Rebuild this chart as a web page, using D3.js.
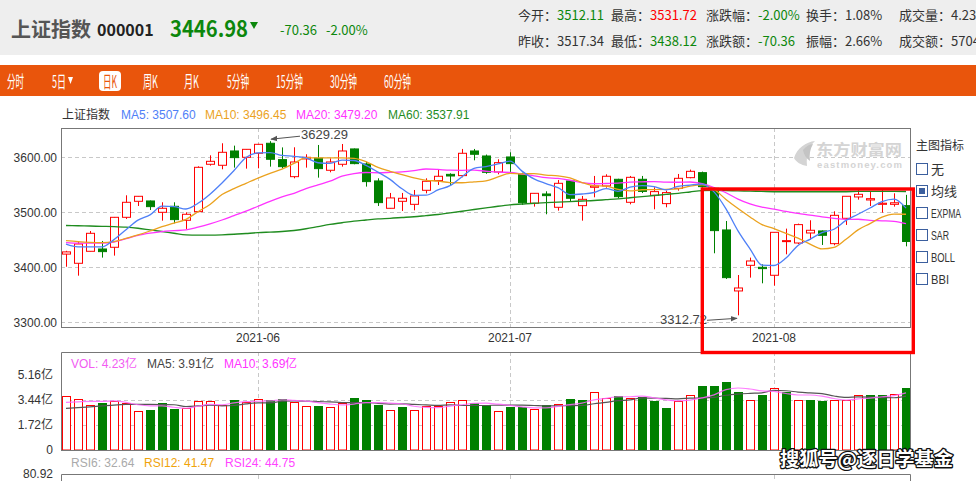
<!DOCTYPE html>
<html lang="zh-CN">
<head>
<meta charset="utf-8">
<title>上证指数 000001 日K</title>
<script src="https://d3js.org/d3.v7.min.js"></script>
<style>
html, body { margin: 0; padding: 0; background: #fff; }
svg { display: block; }
text { font-family: "Liberation Sans", Arial, sans-serif; }
.cjk { font-family: "Noto Sans CJK SC", "Noto Sans", sans-serif; }
</style>
</head>
<body>
<div id="chart"></div>
<script>
// ---- data ----
var dates = [
  "2021-05-10","2021-05-11","2021-05-12","2021-05-13","2021-05-14","2021-05-17","2021-05-18","2021-05-19","2021-05-20","2021-05-21",
  "2021-05-24","2021-05-25","2021-05-26","2021-05-27","2021-05-28","2021-05-31","2021-06-01","2021-06-02","2021-06-03","2021-06-04",
  "2021-06-07","2021-06-08","2021-06-09","2021-06-10","2021-06-11","2021-06-15","2021-06-16","2021-06-17","2021-06-18","2021-06-21",
  "2021-06-22","2021-06-23","2021-06-24","2021-06-25","2021-06-28","2021-06-29","2021-06-30","2021-07-01","2021-07-02","2021-07-05",
  "2021-07-06","2021-07-07","2021-07-08","2021-07-09","2021-07-12","2021-07-13","2021-07-14","2021-07-15","2021-07-16","2021-07-19",
  "2021-07-20","2021-07-21","2021-07-22","2021-07-23","2021-07-26","2021-07-27","2021-07-28","2021-07-29","2021-07-30","2021-08-02",
  "2021-08-03","2021-08-04","2021-08-05","2021-08-06","2021-08-09","2021-08-10","2021-08-11","2021-08-12","2021-08-13","2021-08-16",
  "2021-08-17"]

var opens = [3424,3407.3,3429.1,3433.3,3436.4,3490.9,3520,3520.6,3500,3510.9,
  3485.5,3501.2,3587.3,3585.5,3611.5,3600,3607.3,3625.5,3595.8,3564.8,
  3597,3598.2,3576.4,3587.3,3615.2,3587.9,3557,3507.3,3520,3514.5,
  3540,3557.6,3569,3566.7,3611.5,3602.4,3573.3,3600.6,3569.7,3516.4,
  3533.3,3509.1,3557,3512.1,3545.5,3547.9,3560,3518.2,3560,3530.9,
  3515.8,3543.6,3563,3572.1,3543.6,3467.9,3357,3403.6,3400,3385.5,
  3447.3,3444.2,3462.4,3466.1,3443,3489.1,3527.9,3522.4,3514.5,3514.5,
  3512.11]
var highs = [3430,3446.7,3466,3447.9,3491.5,3530.9,3529.5,3521.5,3518.2,3518.2,
  3500,3583.6,3603.6,3625.5,3621.2,3615,3624.5,3629.29,3618,3618.2,
  3605.5,3622.4,3598.2,3624.2,3616,3592,3561.8,3535.2,3535.2,3540.6,
  3561.8,3578.2,3570.9,3615.2,3615.2,3605,3596.4,3609.1,3572,3534.5,
  3538.2,3558.8,3557,3529.7,3566.1,3569.1,3561,3566.1,3566.1,3545.5,
  3539.4,3569.7,3577.6,3574,3546,3484.2,3386,3417.6,3405.5,3463.6,
  3470.3,3479.4,3485.5,3467,3501.8,3529.1,3543.6,3537.6,3540.6,3534.5,
  3531.72]
var lows = [3401,3384.8,3429,3417.6,3421.2,3487.9,3511.5,3504.2,3484.8,3480,
  3469.7,3500,3584.8,3578.2,3581.2,3579.4,3580,3583,3580,3561.8,
  3581.2,3563,3572.7,3583,3587.3,3546.7,3511.5,3507,3502.4,3503.6,
  3534.5,3549.7,3549.7,3563.6,3594.5,3570,3569.1,3573.3,3513.3,3510.3,
  3496.4,3503,3519.4,3484.8,3527.3,3544.8,3525.5,3514.5,3535,3505.5,
  3509.1,3539.4,3561.8,3545,3425.5,3378.8,3312.72,3381.2,3370.9,3366.7,
  3423.6,3442,3449.7,3440.6,3440,3477,3523,3511.5,3499.4,3510.3,
  3438.12]
var closes = [3428,3442.4,3461.8,3428.5,3490.9,3518.2,3529.1,3510.3,3507.3,3486.7,
  3496.4,3581.8,3592.7,3609.1,3599.4,3614.5,3623.6,3596.4,3583,3591.5,
  3600,3579.4,3591.5,3611.5,3588.5,3555.8,3517.6,3526.1,3525.5,3529.7,
  3556.4,3565.5,3566,3607.3,3605.5,3572.7,3590.3,3588.5,3517.6,3534.5,
  3530.3,3552.7,3525.5,3523.6,3547.9,3565.5,3528.5,3563.6,3538,3537.6,
  3535.8,3561.8,3574.5,3546.7,3466.7,3381.2,3362.4,3411.5,3397.6,3463.6,
  3448.5,3477.6,3467.3,3458.2,3494.5,3529.1,3532.7,3524.8,3516.5,3517.34,
  3446.98]

var ma5 = [3442,3437,3437,3437,3450.3,3468.4,3485.7,3495.4,3511.2,3510.3,
  3506.0,3516.5,3533.0,3553.3,3575.9,3599.5,3607.9,3608.6,3603.4,3601.8,
  3598.9,3590.1,3589.1,3594.8,3594.2,3585.3,3573.0,3559.9,3542.7,3530.9,
  3531.1,3540.6,3548.4,3564.7,3579.9,3583.2,3588.1,3592.9,3574.9,3560.7,
  3552.2,3544.7,3532.1,3533.3,3536.0,3543.0,3538.2,3545.8,3548.6,3546.6,
  3540.6,3547.3,3549.5,3551.3,3537.1,3506.2,3466.3,3433.7,3403.9,3403.3,
  3416.7,3439.8,3450.9,3463.0,3469.2,3485.3,3496.4,3507.9,3519.6,3524.1,
  3507.6]
var ma10 = [3448.5,3446.7,3445.5,3445,3446.7,3452.7,3458.8,3466,3474,3480.3,
  3487.2,3501.1,3514.2,3532.3,3543.1,3552.7,3562.2,3570.8,3578.4,3588.8,
  3599.2,3599.0,3598.8,3599.1,3598.0,3592.1,3581.5,3574.5,3568.7,3562.6,
  3558.2,3556.8,3554.1,3553.7,3555.4,3557.1,3564.4,3570.6,3569.8,3570.3,
  3567.7,3566.4,3562.5,3554.1,3548.4,3547.6,3541.5,3539.0,3541.0,3541.3,
  3541.8,3542.7,3547.6,3550.0,3541.8,3523.4,3506.8,3491.6,3477.6,3470.2,
  3461.5,3453.0,3442.3,3433.5,3436.2,3451.0,3468.1,3479.4,3491.3,3496.7,
  3496.45]
var ma20 = [3445,3444,3444,3444,3446,3452,3458,3462,3465,3466.5,
  3468,3473,3479,3486,3494,3502,3511,3520,3528,3534.6,
  3543.2,3550.0,3556.5,3565.7,3570.5,3572.4,3571.9,3572.6,3573.6,3575.7,
  3578.7,3577.9,3576.5,3576.4,3576.7,3574.6,3573.0,3572.6,3569.3,3566.4,
  3563.0,3561.6,3558.3,3553.9,3551.9,3552.4,3552.9,3554.8,3555.4,3555.8,
  3554.8,3554.6,3555.1,3552.0,3545.1,3535.5,3524.1,3515.3,3509.3,3505.7,
  3501.6,3497.9,3495.0,3491.7,3489.0,3487.2,3487.4,3485.5,3484.5,3483.4,
  3479.2]
var ma60 = [3476,3475.5,3475,3474.5,3474,3473,3471,3468,3465,3462,
  3459,3458.5,3458.5,3459,3460,3461.5,3463,3464,3465,3467,
  3470,3474,3478,3481,3484,3486,3488,3489,3490.5,3492,
  3494,3496,3499,3502,3505,3508,3511,3513.5,3515,3516.5,
  3517.5,3518.5,3519.5,3520.5,3521.5,3523,3524.5,3526.5,3528.5,3530.5,
  3532.5,3534.5,3537,3539.5,3540,3539.5,3539,3538.5,3538,3537.5,
  3537.5,3537.5,3537.5,3537.5,3537.5,3537.5,3538,3538,3538,3538,
  3537.91]

// volume in 亿
var volumes = [3.72,3.50,3.10,3.19,3.33,3.19,2.67,2.76,3.19,2.83,
  2.87,3.36,3.36,3.10,3.45,3.29,3.50,3.45,3.52,3.26,
  3.01,3.03,2.94,3.19,3.59,3.45,3.10,2.74,2.97,2.74,
  3.03,3.03,3.29,3.42,3.19,3.10,2.69,2.92,2.92,2.83,
  3.10,3.17,3.52,3.45,3.98,3.56,3.72,3.56,3.63,3.38,
  2.90,3.38,3.79,4.41,4.41,4.69,3.95,3.43,3.79,4.25,
  3.95,3.43,3.45,3.38,3.43,3.43,3.79,3.79,3.79,3.86,
  4.23]
var volMa5 = [3.26,3.30,3.33,3.33,3.37,3.26,3.10,3.03,3.03,2.93,
  2.86,3.00,3.12,3.10,3.23,3.31,3.34,3.36,3.44,3.40,
  3.35,3.25,3.15,3.09,3.15,3.24,3.25,3.21,3.17,3.00,
  2.92,2.90,3.01,3.10,3.19,3.21,3.14,3.06,2.96,2.89,
  2.89,2.99,3.11,3.21,3.44,3.54,3.65,3.65,3.69,3.57,
  3.44,3.37,3.42,3.57,3.78,4.14,4.25,4.18,4.05,4.02,
  3.87,3.77,3.77,3.69,3.53,3.42,3.50,3.56,3.65,3.73,
  3.91]
var volMa10 = [2.85,2.90,2.96,3.02,3.08,3.12,3.13,3.12,3.11,3.10,
  2.98,3.02,3.08,3.02,3.05,3.16,3.23,3.23,3.34,3.36,
  3.34,3.31,3.30,3.25,3.25,3.25,3.20,3.15,3.16,3.12,
  3.09,3.06,3.09,3.05,3.05,3.05,3.08,3.08,3.08,3.05,
  3.02,3.03,3.04,3.05,3.17,3.26,3.38,3.43,3.57,3.55,
  3.54,3.51,3.55,3.57,3.61,3.75,3.83,3.88,3.92,4.08,
  4.06,3.97,3.91,3.86,3.70,3.60,3.64,3.63,3.59,3.58,
  3.69]

var priceTicks = [3300, 3400, 3500, 3600]
var volTicks = [0, 1.72, 3.44, 5.16]
var tabs = ["分时", "5日", "日K", "周K", "月K", "5分钟", "15分钟", "30分钟", "60分钟"]
var indicators = ["无", "均线", "EXPMA", "SAR", "BOLL", "BBI"]
var quoteRow1 = [["今开：", "3512.11", "down"], ["最高：", "3531.72", "up"], ["涨跌幅：", "-2.00%", "down"], ["换手：", "1.08%", ""], ["成交量：", "4.23亿", ""]]
var quoteRow2 = [["昨收：", "3517.34", ""], ["最低：", "3438.12", "down"], ["涨跌额：", "-70.36", "down"], ["振幅：", "2.66%", ""], ["成交额：", "5704亿", ""]]

// ---- drawing ----
var RED = "#ff0000", GREEN = "#008000", ORANGE = "#e9550c", QUOTE_GREEN = "#0c870c"
var colMa5 = "#4f80f7", colMa10 = "#eba21e", colMa20 = "#ff33ff", colMa60 = "#1f8c1f"

var svg = d3.select("#chart").append("svg")
	.attr("width", 976)
	.attr("height", 481)

var rows = dates.map((d, i) => ({
	date: d, o: opens[i], h: highs[i], l: lows[i], c: closes[i], v: volumes[i],
	up: closes[i] >= opens[i],
	volUp: i === 0 ? closes[i] >= opens[i] : closes[i] >= closes[i - 1]
}))

// header
svg.append("rect").attr("x", 0).attr("y", 0).attr("width", 976).attr("height", 55).attr("fill", "#eeeeee")
svg.append("text").attr("class", "cjk").attr("x", 11).attr("y", 37).attr("font-size", 20).attr("font-weight", "bold").attr("fill", "#555").text("上证指数")
svg.append("text").attr("class", "cjk").attr("x", 97).attr("y", 36).attr("font-size", 16).attr("font-weight", "bold").attr("fill", "#222").text("000001")
svg.append("text").attr("class", "cjk").attr("x", 170).attr("y", 37)
	.attr("font-size", 22).attr("font-weight", "bold").attr("fill", QUOTE_GREEN)
	.attr("textLength", 78).attr("lengthAdjust", "spacingAndGlyphs")
	.text(closes[closes.length - 1].toFixed(2))
svg.append("path").attr("d", "M250,22 L258,22 L254,29 Z").attr("fill", QUOTE_GREEN)
svg.append("text").attr("class", "cjk").attr("x", 280).attr("y", 35).attr("font-size", 13).attr("fill", QUOTE_GREEN).text("-70.36")
svg.append("text").attr("class", "cjk").attr("x", 326).attr("y", 35).attr("font-size", 13).attr("fill", QUOTE_GREEN).text("-2.00%")

var quoteX = [518, 611, 706, 806, 899]
var quoteColor = k => k === "up" ? RED : k === "down" ? QUOTE_GREEN : "#333"
;[quoteRow1, quoteRow2].forEach((row, r) => {
	row.forEach((q, j) => {
		var t = svg.append("text").attr("class", "cjk")
			.attr("x", quoteX[j]).attr("y", 20 + r * 25.5).attr("font-size", 13)
		t.append("tspan").attr("fill", "#333").text(q[0])
		t.append("tspan").attr("fill", quoteColor(q[2])).text(q[1])
	})
})

// tab bar
svg.append("rect").attr("x", 0).attr("y", 65).attr("width", 976).attr("height", 31).attr("fill", ORANGE)
var tabLeft = [7, 52, 103, 143, 184, 227, 276, 330, 384]
var tabWidth = [17, 14, 14, 15, 15, 22, 27, 27, 27]
svg.append("rect").attr("x", 99).attr("y", 71).attr("width", 22).attr("height", 20).attr("rx", 4).attr("fill", "#fff")
tabs.forEach((t, i) => {
	svg.append("text").attr("class", "cjk")
		.attr("x", tabLeft[i]).attr("y", 88)
		.attr("font-size", 17)
		.attr("textLength", tabWidth[i]).attr("lengthAdjust", "spacingAndGlyphs")
		.attr("fill", t === "日K" ? ORANGE : "#fff")
		.text(t)
})
svg.append("path").attr("d", "M68,77 L73,77 L70.5,84 Z").attr("fill", "#fff")

// scales
var x = d3.scalePoint().domain(dates).range([60, 912]).padding(0.5)
var y = d3.scaleLinear().domain([3300, 3600]).range([322.3, 157.3])
var yv = d3.scaleLinear().domain([0, 5.16]).range([450, 374.7])
var cx = d => Math.round(x(d)) + 0.5

var plot = {left: 61, right: 910, top: 128, bottom: 327}
var monthStarts = dates.filter((d, i) => i > 0 && d.slice(0, 7) !== dates[i - 1].slice(0, 7))

// price legend
var legend = [["上证指数", "#333", 62, true], ["MA5: 3507.60", colMa5, 121], ["MA10: 3496.45", colMa10, 205], ["MA20: 3479.20", colMa20, 296], ["MA60: 3537.91", colMa60, 388]]
legend.forEach(l => {
	svg.append("text").attr("class", l[3] ? "cjk" : null).attr("x", l[2]).attr("y", 119).attr("font-size", 12).attr("fill", l[1]).text(l[0])
})

// price grid
svg.selectAll("line.hgrid").data(priceTicks).join("line")
	.attr("class", "hgrid")
	.attr("x1", plot.left).attr("x2", plot.right)
	.attr("y1", d => Math.round(y(d)) + 0.5).attr("y2", d => Math.round(y(d)) + 0.5)
	.attr("stroke", "#c8c8c8").attr("stroke-dasharray", "4,3")
svg.selectAll("line.vgrid").data(monthStarts).join("line")
	.attr("class", "vgrid")
	.attr("x1", cx).attr("x2", cx)
	.attr("y1", plot.top).attr("y2", plot.bottom)
	.attr("stroke", "#c8c8c8").attr("stroke-dasharray", "4,3")

// watermark
var wm = svg.append("g").attr("fill", "#d4d4d4")
wm.append("path").attr("d", "M794,158 C797,148 806,142 815,141 C809,147 806,154 807,166 C801,165 796,162 794,158 Z")
wm.append("path").attr("d", "M803,150 C806,146 810,144 813,144 C810,149 809,155 810,161 C806,158 804,155 803,150 Z").attr("fill", "#c4c4c4")
wm.append("text").attr("class", "cjk").attr("x", 816).attr("y", 155).attr("font-size", 15).attr("font-weight", "bold").attr("textLength", 86).attr("lengthAdjust", "spacingAndGlyphs").text("东方财富网")
wm.append("text").attr("x", 817).attr("y", 168).attr("font-size", 9.5).attr("font-weight", "bold").attr("textLength", 85).text("eastmoney.com")

// y axis labels
var yAxis = svg.append("g").attr("transform", "translate(57,0)")
	.call(d3.axisLeft(y).tickValues(priceTicks).tickFormat(d3.format(".2f")).tickSize(0).tickPadding(0))
yAxis.select(".domain").remove()
yAxis.selectAll("text").attr("font-size", 12).attr("fill", "#333").attr("font-family", "Liberation Sans")

// date labels
svg.selectAll("text.month").data(monthStarts).join("text")
	.attr("class", "month")
	.attr("x", d => x(d)).attr("y", 342)
	.attr("text-anchor", "middle").attr("font-size", 12).attr("fill", "#333")
	.text(d => d.slice(0, 7))

// clip + candles
svg.append("clipPath").attr("id", "plotClip").append("rect")
	.attr("x", plot.left).attr("y", plot.top).attr("width", plot.right - plot.left).attr("height", plot.bottom - plot.top)
var pg = svg.append("g").attr("clip-path", "url(#plotClip)")

var candle = pg.selectAll("g.candle").data(rows).join("g").attr("class", "candle")
candle.append("line")
	.attr("x1", d => cx(d.date)).attr("x2", d => cx(d.date))
	.attr("y1", d => y(d.h)).attr("y2", d => y(d.l))
	.attr("stroke", d => d.up ? RED : GREEN).attr("stroke-width", 1)
candle.append("rect")
	.attr("x", d => cx(d.date) - 4).attr("width", 8)
	.attr("y", d => y(Math.max(d.o, d.c)))
	.attr("height", d => Math.max(1, y(Math.min(d.o, d.c)) - y(Math.max(d.o, d.c))))
	.attr("fill", d => d.up ? "#fff" : GREEN)
	.attr("stroke", d => d.up ? RED : GREEN)
	.attr("stroke-width", 1)

// moving averages
var maLine = d3.line().x((d, i) => x(dates[i])).y(d => y(d)).curve(d3.curveMonotoneX)
;[[ma60, colMa60, 1.4], [ma20, colMa20, 1.3], [ma10, colMa10, 1.3], [ma5, colMa5, 1.3]].forEach(m => {
	pg.append("path").attr("d", maLine(m[0]))
		.attr("fill", "none").attr("stroke", m[1]).attr("stroke-width", m[2])
})

// frame
svg.append("rect").attr("x", plot.left + 0.5).attr("y", plot.top + 0.5)
	.attr("width", plot.right - plot.left).attr("height", plot.bottom - plot.top)
	.attr("fill", "none").attr("stroke", "#777")

// high / low notes
svg.append("defs").append("marker").attr("id", "arr")
	.attr("viewBox", "0 0 10 10").attr("refX", 9).attr("refY", 5)
	.attr("markerWidth", 7).attr("markerHeight", 7).attr("orient", "auto")
	.append("path").attr("d", "M0,1 L10,5 L0,9 Z").attr("fill", "#555")
var hiIdx = d3.maxIndex(highs), loIdx = d3.minIndex(lows)
var hx = x(dates[hiIdx]), hy = y(highs[hiIdx])
svg.append("line").attr("x1", hx + 30).attr("y1", hy - 5).attr("x2", hx + 1).attr("y2", hy - 2)
	.attr("stroke", "#555").attr("marker-end", "url(#arr)")
svg.append("text").attr("x", hx + 31).attr("y", hy - 2).attr("font-size", 13).attr("fill", "#444").text(highs[hiIdx].toFixed(2))
var lx = x(dates[loIdx]), ly = y(lows[loIdx])
svg.append("line").attr("x1", lx - 31).attr("y1", ly + 5).attr("x2", lx - 1).attr("y2", ly + 3)
	.attr("stroke", "#555").attr("marker-end", "url(#arr)")
svg.append("text").attr("x", lx - 31).attr("y", ly + 9).attr("text-anchor", "end").attr("font-size", 13).attr("fill", "#444").text(lows[loIdx].toFixed(2))

// right indicator panel
svg.append("text").attr("class", "cjk").attr("x", 916).attr("y", 150).attr("font-size", 12).attr("fill", "#333").text("主图指标")
indicators.forEach((name, i) => {
	var yy = 169 + i * 22
	svg.append("rect").attr("x", 916.5).attr("y", yy - 5.5).attr("width", 11).attr("height", 11)
		.attr("fill", "#fff").attr("stroke", "#3b5f9e")
	if (name === "均线") svg.append("rect").attr("x", 919).attr("y", yy - 3).attr("width", 6).attr("height", 6).attr("fill", "#3b5f9e")
	var cjk = /[\u4e00-\u9fff]/.test(name)
	svg.append("text").attr("x", 931).attr("y", yy + 5)
		.attr("font-family", cjk ? "Noto Sans CJK SC" : "Liberation Serif")
		.attr("font-size", cjk ? 13 : 12.5)
		.attr("textLength", cjk ? null : name.length * 6)
		.attr("lengthAdjust", "spacingAndGlyphs")
		.attr("fill", "#333").text(name)
})

// volume panel
var vol = {top: 352, bottom: 450}
var volLegend = [["VOL: 4.23亿", "#f25cf2", 71], ["MA5: 3.91亿", "#444", 147], ["MA10: 3.69亿", "#ff33ff", 224]]
volLegend.forEach(l => svg.append("text").attr("x", l[2]).attr("y", 368).attr("font-size", 12).attr("fill", l[1]).text(l[0]))

svg.selectAll("line.vgrid2").data(monthStarts).join("line")
	.attr("class", "vgrid2")
	.attr("x1", cx).attr("x2", cx).attr("y1", vol.top).attr("y2", vol.bottom)
	.attr("stroke", "#c8c8c8").attr("stroke-dasharray", "4,3")
svg.selectAll("line.vhgrid").data(volTicks.filter(d => d > 0 && d < 5)).join("line")
	.attr("class", "vhgrid")
	.attr("x1", plot.left).attr("x2", plot.right)
	.attr("y1", d => Math.round(yv(d)) + 0.5).attr("y2", d => Math.round(yv(d)) + 0.5)
	.attr("stroke", "#c8c8c8").attr("stroke-dasharray", "4,3")

svg.selectAll("rect.vbar").data(rows).join("rect")
	.attr("class", "vbar")
	.attr("x", d => cx(d.date) - 4).attr("width", 8)
	.attr("y", d => Math.round(yv(d.v)) + 0.5)
	.attr("height", d => vol.bottom - Math.round(yv(d.v)) - 0.5)
	.attr("fill", d => d.volUp ? "#fff" : GREEN)
	.attr("stroke", d => d.volUp ? RED : GREEN)

var vLine = d3.line().x((d, i) => x(dates[i])).y(d => yv(d)).curve(d3.curveMonotoneX)
svg.append("path").attr("d", vLine(volMa10)).attr("fill", "none").attr("stroke", "#555").attr("stroke-width", 1.2)
svg.append("path").attr("d", vLine(volMa5)).attr("fill", "none").attr("stroke", "#ff66ff").attr("stroke-width", 1.2).attr("stroke-opacity", 0.85)

var vAxis = svg.append("g").attr("transform", "translate(53,0)")
	.call(d3.axisLeft(yv).tickValues(volTicks).tickFormat(d => d === 0 ? "0" : d.toFixed(2) + "亿").tickSize(0).tickPadding(0))
vAxis.select(".domain").remove()
vAxis.selectAll("text").attr("font-size", 12).attr("fill", "#333").attr("font-family", "Liberation Sans")

svg.append("path")
	.attr("d", "M" + (plot.left + 0.5) + "," + vol.bottom + "V" + (vol.top + 0.5) + "H" + (plot.right + 0.5) + "V" + vol.bottom)
	.attr("fill", "none").attr("stroke", "#777")
svg.append("line").attr("x1", plot.left).attr("x2", plot.right + 1).attr("y1", vol.bottom + 0.5).attr("y2", vol.bottom + 0.5).attr("stroke", "#777")

// RSI panel (only its top edge is visible)
var rsiLegend = [["RSI6: 32.64", "#aaa", 71], ["RSI12: 41.47", "#f0a30a", 144], ["RSI24: 44.75", "#ff44ff", 225]]
rsiLegend.forEach(l => svg.append("text").attr("x", l[2]).attr("y", 467).attr("font-size", 12).attr("fill", l[1]).text(l[0]))
svg.append("path")
	.attr("d", "M" + (plot.left + 0.5) + ",481V474.5H" + (plot.right + 0.5) + "V481")
	.attr("fill", "none").attr("stroke", "#777")
svg.append("text").attr("x", 53).attr("y", 478).attr("text-anchor", "end").attr("font-size", 12).attr("fill", "#333").text("80.92")
svg.selectAll("line.vgrid3").data(monthStarts).join("line")
	.attr("class", "vgrid3")
	.attr("x1", cx).attr("x2", cx).attr("y1", 475).attr("y2", 481)
	.attr("stroke", "#c8c8c8").attr("stroke-dasharray", "4,3")

// highlight box
svg.append("rect").attr("x", 702.3).attr("y", 189).attr("width", 211).attr("height", 163.5)
	.attr("fill", "none").attr("stroke", "#ff0000").attr("stroke-width", 3.4)

// source watermark
svg.append("text").attr("class", "cjk")
	.attr("x", 780).attr("y", 466)
	.attr("font-size", 19).attr("font-weight", "bold")
	.attr("textLength", 173).attr("lengthAdjust", "spacingAndGlyphs")
	.attr("fill", "#fff").attr("stroke", "#111").attr("stroke-width", 2.6)
	.attr("paint-order", "stroke").attr("stroke-linejoin", "round")
	.text("搜狐号@逐日学基金")
</script>
</body>
</html>
